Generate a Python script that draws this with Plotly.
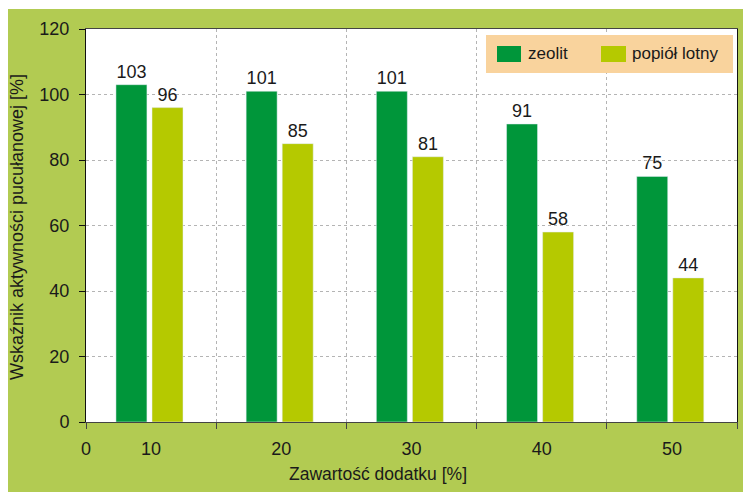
import plotly.graph_objects as go

# Data
additive_content = ["10", "20", "30", "40", "50"]
zeolit = [103, 101, 101, 91, 75]
popiol_lotny = [96, 85, 81, 58, 44]
y_ticks = [0, 20, 40, 60, 80, 100, 120]

# Styles
GREEN_DARK = "#00963a"
GREEN_LIGHT = "#b5c900"
BG_GREEN = "#b2cb52"
LEGEND_BG = "#f9d39d"
FONT = "Liberation Sans"
TXT = "#1a1a1a"
BAR_W = 0.238

# Category centres on a 0..N band axis
centres = [i + 0.5 for i in range(len(additive_content))]
bounds = list(range(len(additive_content) + 1))

fig = go.Figure()
fig.add_trace(go.Bar(
    x=centres, y=zeolit, name="zeolit", marker_color=GREEN_DARK,
    width=BAR_W, offset=-0.27,
    text=zeolit, textposition="outside", cliponaxis=False,
    textfont=dict(size=18, color=TXT, family=FONT),
))
fig.add_trace(go.Bar(
    x=centres, y=popiol_lotny, name="popiół lotny", marker_color=GREEN_LIGHT,
    width=BAR_W, offset=0.007,
    text=popiol_lotny, textposition="outside", cliponaxis=False,
    textfont=dict(size=18, color=TXT, family=FONT),
))

W, H = 743, 492
L, R, T, B = 86, 6, 29, 70
pw, ph = W - L - R, H - T - B

def px(xp):
    return (xp - L) / pw

def py(yp):
    return (H - B - yp) / ph

fig.update_layout(
    width=W, height=H,
    margin=dict(l=L, r=R, t=T, b=B, pad=0),
    paper_bgcolor=BG_GREEN,
    plot_bgcolor="white",
    barmode="overlay",
    showlegend=False,
    font=dict(family=FONT, color=TXT, size=18),
    xaxis=dict(
        range=[0, len(additive_content)],
        tickmode="array", tickvals=bounds,
        ticktext=["0"] + [""] * len(additive_content),
        ticks="outside", ticklen=6, tickcolor="#444444",
        showgrid=True, gridcolor="#b4b4b4", griddash="dot", gridwidth=1,
        showline=True, linecolor="#444444", linewidth=1, mirror=True,
        zeroline=False, tickfont=dict(size=18, color=TXT),
        ticklabelstandoff=4,
    ),
    xaxis2=dict(
        overlaying="x", matches="x", side="bottom",
        range=[0, len(additive_content)],
        tickmode="array", tickvals=centres, ticktext=additive_content,
        ticks="", showgrid=False, showline=False, zeroline=False,
        tickfont=dict(size=18, color=TXT),
        ticklabelstandoff=14,
    ),
    yaxis=dict(
        range=[0, 120], tickmode="array", tickvals=y_ticks,
        ticks="outside", ticklen=6, tickcolor="#111111",
        showgrid=True, gridcolor="#b4b4b4", griddash="dot", gridwidth=1,
        showline=True, linecolor="#111111", linewidth=1, mirror=True,
        zeroline=False, tickfont=dict(size=18, color=TXT),
        ticklabelstandoff=6,
    ),
)

# An invisible trace so the second x axis is drawn
fig.add_trace(go.Scatter(x=centres, y=[0] * len(centres), xaxis="x2",
                         mode="markers", marker=dict(opacity=0),
                         hoverinfo="skip", showlegend=False))

shapes = [
    # white strips around the green frame
    dict(type="rect", xref="paper", yref="paper", x0=px(-5), x1=px(W + 5),
         y0=py(9), y1=py(-5), fillcolor="white", line_width=0, layer="above"),
    dict(type="rect", xref="paper", yref="paper", x0=px(-5), x1=px(8),
         y0=py(H + 5), y1=py(-5), fillcolor="white", line_width=0, layer="above"),
    # legend box
    dict(type="rect", xref="paper", yref="paper", x0=px(486), x1=px(733),
         y0=py(73), y1=py(35), fillcolor=LEGEND_BG, line_width=0, layer="above"),
    dict(type="rect", xref="paper", yref="paper", x0=px(497), x1=px(521),
         y0=py(62), y1=py(46), fillcolor=GREEN_DARK, line_width=0, layer="above"),
    dict(type="rect", xref="paper", yref="paper", x0=px(601), x1=px(626),
         y0=py(62), y1=py(46), fillcolor=GREEN_LIGHT, line_width=0, layer="above"),
]
fig.update_layout(shapes=shapes)

annotations = [
    dict(text="zeolit", x=px(526), y=py(53), xref="paper", yref="paper",
         xanchor="left", yanchor="middle", showarrow=False,
         font=dict(size=17, color=TXT)),
    dict(text="popiół lotny", x=px(630), y=py(54), xref="paper", yref="paper",
         xanchor="left", yanchor="middle", showarrow=False,
         font=dict(size=17, color=TXT)),
    dict(text="Zawartość dodatku [%]", x=px(378), y=py(474), xref="paper",
         yref="paper", xanchor="center", yanchor="middle", showarrow=False,
         font=dict(size=17.5, color=TXT)),
    dict(text="Wskaźnik aktywności pucułanowej [%]", x=px(17), y=py(227),
         xref="paper", yref="paper", xanchor="center", yanchor="middle",
         textangle=-90, showarrow=False, font=dict(size=18, color=TXT)),
]
fig.update_layout(annotations=annotations)

fig.write_html("out.html")
